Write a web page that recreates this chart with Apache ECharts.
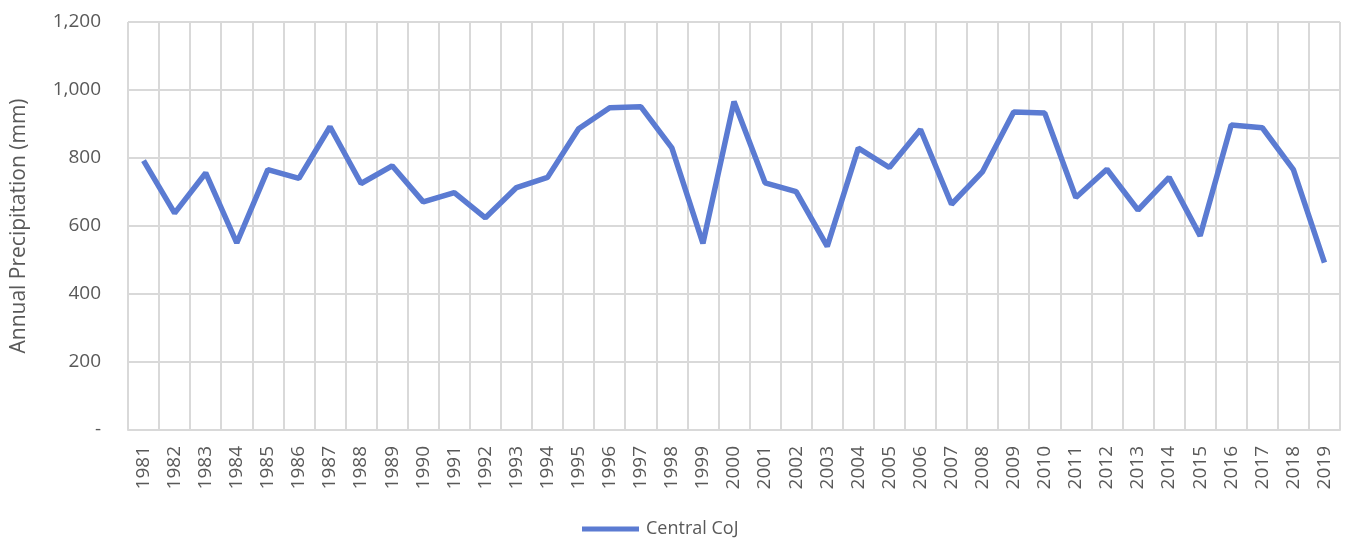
<!DOCTYPE html>
<html>
<head>
<meta charset="utf-8">
<script src="https://cdn.jsdelivr.net/npm/echarts@6/dist/echarts.min.js"></script>
<style>
  html, body { margin: 0; padding: 0; background: #fff; }
  #chart { width: 1347px; height: 544px; }
</style>
</head>
<body>
<div id="chart"></div>
<script>
// years on the x axis
const years = [
  "1981", "1982", "1983", "1984", "1985", "1986", "1987", "1988", "1989", "1990",
  "1991", "1992", "1993", "1994", "1995", "1996", "1997", "1998", "1999", "2000",
  "2001", "2002", "2003", "2004", "2005", "2006", "2007", "2008", "2009", "2010",
  "2011", "2012", "2013", "2014", "2015", "2016", "2017", "2018", "2019",
];

// annual precipitation, mm
const centralCoJ = [
  792, 638, 756, 550, 766, 740, 892, 725, 777, 671,
  698, 624, 713, 743, 886, 948, 951, 830, 549, 966,
  727, 701, 540, 829, 772, 884, 664, 760, 935, 932,
  684, 767, 647, 743, 571, 897, 889, 766, 492,
];

const seriesName = "Central CoJ";
const yName = "Annual Precipitation (mm)";

const font = "'Open Sans', 'Noto Sans', sans-serif";
const textGrey = "#595959";
const gridGrey = "#d9d9d9";

const chart = echarts.init(document.getElementById("chart"));

chart.setOption({
  animation: false,
  textStyle: { fontFamily: font },
  grid: { left: 128, right: 7, top: 22, bottom: 114 },
  legend: {
    top: 520,
    left: 582,
    padding: 0,
    itemWidth: 57,
    itemHeight: 5,
    itemGap: 10,
    icon: "rect",
    textStyle: { color: textGrey, fontSize: 18, fontFamily: font, padding: [0, 0, 0, 2] },
    data: [seriesName],
  },
  xAxis: {
    type: "category",
    data: years,
    boundaryGap: true,
    axisLine: { show: true, lineStyle: { color: gridGrey, width: 2 } },
    axisTick: { show: false },
    splitLine: { show: true, lineStyle: { color: gridGrey, width: 2 } },
    axisLabel: {
      rotate: 90,
      interval: 0,
      margin: 16,
      color: textGrey,
      fontSize: 19,
      fontFamily: font,
    },
  },
  yAxis: {
    type: "value",
    min: 0,
    max: 1200,
    interval: 200,
    name: yName,
    nameLocation: "middle",
    nameGap: 98,
    nameTextStyle: { color: textGrey, fontSize: 21, fontFamily: font },
    axisLine: { show: false },
    axisTick: { show: false },
    splitLine: { lineStyle: { color: gridGrey, width: 2 } },
    axisLabel: {
      margin: 27,
      color: textGrey,
      fontSize: 19,
      fontFamily: font,
      formatter: (v) => (v === 0 ? "-" : v.toLocaleString("en-US")),
    },
  },
  series: [
    {
      name: seriesName,
      type: "line",
      data: centralCoJ,
      symbol: "none",
      lineStyle: { color: "#5b7bd2", width: 5.5 },
      itemStyle: { color: "#5b7bd2" },
    },
  ],
});
</script>
</body>
</html>
